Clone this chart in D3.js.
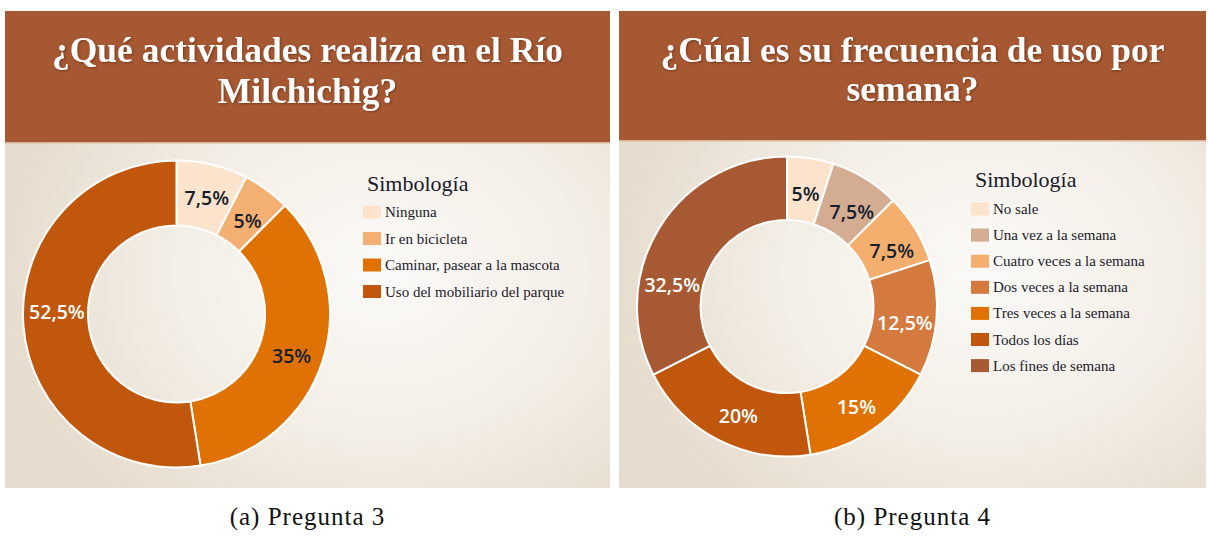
<!DOCTYPE html>
<html lang="es">
<head>
<meta charset="utf-8">
<script src="https://cdn.jsdelivr.net/npm/d3@7/dist/d3.min.js"></script>
<style>
  html, body { margin: 0; padding: 0; background: #ffffff; }
  svg { display: block; }
</style>
</head>
<body>
<svg id="fig" width="1208" height="536"></svg>
<script>
// Pregunta 3: actividades en el río
const actividades = ["Ninguna", "Ir en bicicleta", "Caminar, pasear a la mascota", "Uso del mobiliario del parque"];
const actividadesValores = [7.5, 5, 35, 52.5];
const actividadesColores = ["#fce3cb", "#f4b073", "#e07203", "#c0570c"];
const actividadesTexto = ["#14202e", "#14202e", "#14202e", "#ffffff"];

// Pregunta 4: frecuencia de uso por semana
const frecuencias = ["No sale", "Una vez a la semana", "Cuatro veces a la semana", "Dos veces a la semana",
                     "Tres veces a la semana", "Todos los días", "Los fines de semana"];
const frecuenciasValores = [5, 7.5, 7.5, 12.5, 15, 20, 32.5];
const frecuenciasColores = ["#fce3cb", "#d3ac92", "#f4ae6d", "#d57a3f", "#e07203", "#c0570c", "#a65932"];
const frecuenciasTexto = ["#14202e", "#14202e", "#14202e", "#ffffff", "#ffffff", "#ffffff", "#ffffff"];

const svg = d3.select("#fig");
const defs = svg.append("defs");

const fmt = v => String(v).replace(".", ",") + "%";

function panel(cfg) {
  const g = svg.append("g").attr("transform", `translate(${cfg.x},${cfg.y})`);

  // soft radial background
  const gid = "bg-" + cfg.id;
  const grad = defs.append("radialGradient").attr("id", gid)
    .attr("cx", "0.62").attr("cy", "0.55").attr("r", "0.62");
  grad.append("stop").attr("offset", "0").attr("stop-color", "#fbfaf8");
  grad.append("stop").attr("offset", "0.55").attr("stop-color", "#f3eee6");
  grad.append("stop").attr("offset", "1").attr("stop-color", "#e7ddcf");
  g.append("rect").attr("width", cfg.w).attr("height", cfg.h).attr("fill", `url(#${gid})`);

  // header band
  g.append("rect").attr("width", cfg.w).attr("height", cfg.headerH).attr("fill", "#a65832");
  g.append("rect").attr("y", cfg.headerH).attr("width", cfg.w).attr("height", 1.5)
    .attr("fill", "#d9b39a");

  const title = g.append("text")
    .attr("text-anchor", "middle")
    .attr("font-family", "'Liberation Serif', 'Times New Roman', serif")
    .attr("font-weight", "bold")
    .attr("font-size", 35.5)
    .attr("fill", "#ffffff")
    .style("filter", "drop-shadow(1px 1px 1px rgba(60,20,0,0.45))");
  cfg.title.forEach((line, i) => {
    title.append("tspan").attr("x", cfg.w / 2).attr("y", cfg.titleY[i]).text(line);
  });

  // donut
  const pie = d3.pie().sort(null).value(d => d);
  const arcs = pie(cfg.values);
  const arc = d3.arc().innerRadius(cfg.rIn).outerRadius(cfg.rOut);
  const dg = g.append("g").attr("transform", `translate(${cfg.cx},${cfg.cy})`);
  dg.selectAll("path").data(arcs).join("path")
    .attr("d", arc)
    .attr("fill", (d, i) => cfg.colors[i])
    .attr("stroke", "#ffffff")
    .attr("stroke-width", 2);

  // value labels sit at the ring centroid, nudged where the slice is very wide
  dg.selectAll("text").data(arcs).join("text")
    .attr("transform", (d, i) => {
      const [x, y] = arc.centroid(d);
      const [nx, ny] = (cfg.nudge && cfg.nudge[i]) || [0, 0];
      return `translate(${x + nx},${y + 4 + ny})`;
    })
    .attr("text-anchor", "middle")
    .attr("dominant-baseline", "central")
    .attr("font-family", "'Open Sans', 'Noto Sans', sans-serif")
    .attr("font-weight", 600)
    .attr("font-size", 19.5)
    .attr("fill", (d, i) => cfg.textColors[i])
    .text(d => fmt(d.data));

  // legend
  const lg = g.append("g").attr("transform", `translate(${cfg.legendX},${cfg.legendY})`);
  lg.append("text")
    .attr("x", 4).attr("y", 0)
    .attr("font-family", "'Liberation Serif', 'Times New Roman', serif")
    .attr("font-size", 22)
    .attr("fill", "#1b1b2a")
    .text("Simbología");
  const rows = lg.selectAll("g.row").data(cfg.labels).join("g")
    .attr("class", "row")
    .attr("transform", (d, i) => `translate(0,${cfg.legendTop + i * cfg.legendStep})`);
  rows.append("rect")
    .attr("width", 18).attr("height", 13).attr("y", -6.5)
    .attr("fill", (d, i) => cfg.colors[i]);
  rows.append("text")
    .attr("x", 22).attr("y", 5)
    .attr("font-family", "'Liberation Serif', 'Times New Roman', serif")
    .attr("font-size", 15)
    .attr("fill", "#1b1b2a")
    .text(d => d);

  // caption below the panel
  svg.append("text")
    .attr("x", cfg.x + cfg.w / 2).attr("y", 525)
    .attr("text-anchor", "middle")
    .attr("font-family", "'Liberation Serif', 'Times New Roman', serif")
    .attr("font-size", 25)
    .attr("letter-spacing", 1)
    .attr("fill", "#111111")
    .text(cfg.caption);
}

panel({
  id: "a", x: 5, y: 11, w: 605, h: 477, headerH: 131,
  title: ["¿Qué actividades realiza en el Río", "Milchichig?"], titleY: [51, 92],
  values: actividadesValores, colors: actividadesColores, textColors: actividadesTexto,
  labels: actividades,
  cx: 171.5, cy: 303, rOut: 153.5, rIn: 88.5,
  nudge: [[2, -3], [0, 0], [0, 0], [1, -16]],
  legendX: 358, legendY: 180, legendTop: 21, legendStep: 26.5,
  caption: "(a) Pregunta 3"
});

panel({
  id: "b", x: 619, y: 11, w: 587, h: 477, headerH: 129,
  title: ["¿Cúal es su frecuencia de uso por", "semana?"], titleY: [51, 90],
  values: frecuenciasValores, colors: frecuenciasColores, textColors: frecuenciasTexto,
  labels: frecuencias,
  cx: 168, cy: 295.5, rOut: 150, rIn: 86.5,
  nudge: [[0, 0], [3, 2], [4, 2], [0, 3], [0, 0], [5, 0], [-14, 36]],
  legendX: 352, legendY: 176, legendTop: 22, legendStep: 26.1,
  caption: "(b) Pregunta 4"
});
</script>
</body>
</html>
